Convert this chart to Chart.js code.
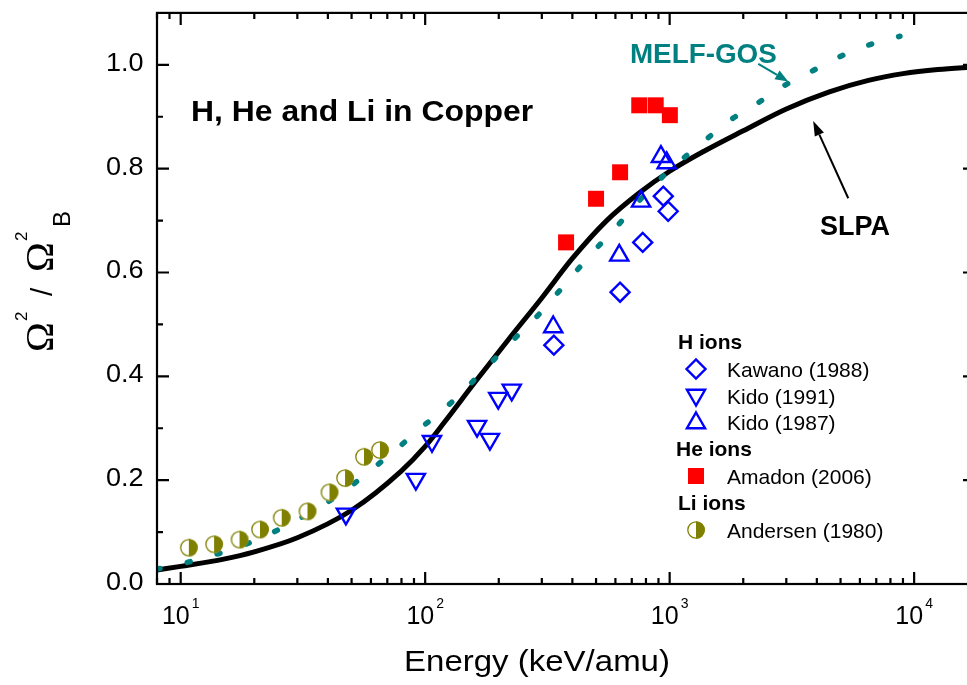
<!DOCTYPE html>
<html>
<head>
<meta charset="utf-8">
<script src="https://cdn.jsdelivr.net/npm/chart.js@4/dist/chart.umd.min.js"></script>
<style>
  html, body { margin: 0; padding: 0; background: #fff; overflow: hidden; }
  #wrap { position: relative; width: 990px; height: 685px; }
</style>
</head>
<body>
<div id="wrap"><canvas id="c" width="990" height="685"></canvas></div>
<script>
// ---- Stopping-power ratio Ω²/Ω²_B versus projectile energy (keV/amu) ----

// SLPA theory curve
const slpaEnergy = [8, 10, 15, 20, 30, 50, 80, 100, 120, 160, 220, 300, 400, 550, 750, 1000, 1400, 2000, 3000, 4500, 6500, 9000, 12500, 17740];
const slpaRatio  = [0.027, 0.034, 0.048, 0.062, 0.089, 0.142, 0.218, 0.265, 0.312, 0.389, 0.472, 0.551, 0.627, 0.699, 0.753, 0.795, 0.835, 0.873, 0.915, 0.948, 0.970, 0.983, 0.991, 0.996];

// MELF-GOS theory curve
const melfEnergy = [8, 9.3, 12.2, 15.9, 21.1, 27.2, 36, 46.9, 61, 77.3, 98, 110, 136, 164, 236, 281, 340, 430, 545, 617, 780, 1020, 1330, 1740, 2270, 2970, 3860, 5040, 6600, 8750];
const melfRatio  = [0.029, 0.034, 0.05, 0.065, 0.088, 0.113, 0.145, 0.18, 0.222, 0.262, 0.304, 0.323, 0.361, 0.40, 0.476, 0.511, 0.555, 0.611, 0.665, 0.692, 0.747, 0.801, 0.846, 0.891, 0.925, 0.961, 0.989, 1.017, 1.039, 1.055];

// H ions
const kawanoEnergy   = [336, 627, 776, 942, 986];
const kawanoRatio    = [0.46, 0.562, 0.658, 0.747, 0.718];
const kido1991Energy = [47.4, 91.6, 106.6, 163, 184, 199, 226];
const kido1991Ratio  = [0.135, 0.202, 0.275, 0.304, 0.279, 0.358, 0.374];
const kido1987Energy = [334, 622, 764, 921, 972];
const kido1987Ratio  = [0.495, 0.633, 0.737, 0.823, 0.811];
// He ions
const amadonEnergy   = [377, 500, 627, 751, 877, 1002];
const amadonRatio    = [0.658, 0.742, 0.793, 0.922, 0.922, 0.903];
// Li ions
const andersenEnergy = [10.8, 13.7, 17.4, 21.1, 25.9, 33, 40.6, 47, 56.2, 65.3];
const andersenRatio  = [0.070, 0.0765, 0.0855, 0.105, 0.1275, 0.140, 0.1765, 0.204, 0.245, 0.258];

// Axis ticks
const xMajorTicks = [10, 100, 1000, 10000];
const xMajorExponents = ['1', '2', '3', '4'];
const yMajorTicks = [0, 0.2, 0.4, 0.6, 0.8, 1.0];
const yTickLabels = ['0.0', '0.2', '0.4', '0.6', '0.8', '1.0'];
const yMinorTicks = [0.1, 0.3, 0.5, 0.7, 0.9];

const BLUE = '#0000ff', RED = '#ff0000', OLIVE = '#808000', TEAL = '#008080';

// half-filled circle marker (left half open, right half olive)
function makeHalfCircle(r) {
  const s = Math.ceil(2 * r + 4);
  const cv = document.createElement('canvas');
  cv.width = s; cv.height = s;
  const g = cv.getContext('2d');
  const c = s / 2;
  g.beginPath(); g.arc(c, c, r, 0, Math.PI * 2); g.fillStyle = '#fff'; g.fill();
  g.beginPath(); g.moveTo(c, c - r); g.arc(c, c, r, -Math.PI / 2, Math.PI / 2); g.closePath();
  g.fillStyle = OLIVE; g.fill();
  g.beginPath(); g.arc(c, c, r - 0.6, 0, Math.PI * 2); g.lineWidth = 1.3; g.strokeStyle = OLIVE; g.stroke();
  return cv;
}
const halfCircle = makeHalfCircle(8.8);

function pts(E, V) { return E.map((e, i) => ({ x: e, y: V[i] })); }

const markerStyles = {
  kawano:   { pointStyle: 'rectRot',  pointRadius: 9.5, pointRotation: 0,   pointBackgroundColor: 'rgba(0,0,0,0)', pointBorderColor: BLUE, pointBorderWidth: 2.4 },
  kido1991: { pointStyle: 'triangle', pointRadius: 10.5, pointRotation: 180, pointBackgroundColor: 'rgba(0,0,0,0)', pointBorderColor: BLUE, pointBorderWidth: 2.4 },
  kido1987: { pointStyle: 'triangle', pointRadius: 10.5, pointRotation: 0,   pointBackgroundColor: 'rgba(0,0,0,0)', pointBorderColor: BLUE, pointBorderWidth: 2.4 },
  amadon:   { pointStyle: 'rect',     pointRadius: 11.3, pointRotation: 0,   pointBackgroundColor: RED, pointBorderColor: RED, pointBorderWidth: 0 },
  andersen: { pointStyle: halfCircle, pointRadius: 9,    pointRotation: 0,   pointBackgroundColor: OLIVE, pointBorderColor: OLIVE, pointBorderWidth: 0 }
};

// text drawn with optional horizontal stretch
function drawText(ctx, s, x, y, font, align, sx, color) {
  sx = sx || 1;
  ctx.save();
  ctx.font = font;
  ctx.fillStyle = color || '#000';
  ctx.textBaseline = 'alphabetic';
  ctx.textAlign = 'left';
  const w = ctx.measureText(s).width * sx;
  const x0 = align === 'center' ? x - w / 2 : (align === 'right' ? x - w : x);
  ctx.translate(x0, y);
  ctx.scale(sx, 1);
  ctx.fillText(s, 0, 0);
  ctx.restore();
  return w;
}

function arrow(ctx, x1, y1, x2, y2, color, lw, headLen, headHalf) {
  const a = Math.atan2(y2 - y1, x2 - x1);
  const bx = x2 - Math.cos(a) * headLen, by = y2 - Math.sin(a) * headLen;
  ctx.save();
  ctx.strokeStyle = color; ctx.fillStyle = color; ctx.lineWidth = lw;
  ctx.beginPath(); ctx.moveTo(x1, y1); ctx.lineTo(bx, by); ctx.stroke();
  ctx.beginPath();
  ctx.moveTo(x2, y2);
  ctx.lineTo(bx + Math.sin(a) * headHalf, by - Math.cos(a) * headHalf);
  ctx.lineTo(bx - Math.sin(a) * headHalf, by + Math.cos(a) * headHalf);
  ctx.closePath(); ctx.fill();
  ctx.restore();
}

function legendMarker(ctx, st, x, y) {
  ctx.save();
  ctx.fillStyle = st.pointBackgroundColor;
  ctx.strokeStyle = st.pointBorderColor;
  ctx.lineWidth = st.pointBorderWidth;
  const opts = { pointStyle: st.pointStyle, radius: st.pointRadius, rotation: st.pointRotation, borderWidth: st.pointBorderWidth };
  if (Chart.helpers && Chart.helpers.drawPoint) {
    Chart.helpers.drawPoint(ctx, opts, x, y);
  } else if (st.pointStyle instanceof HTMLCanvasElement) {
    ctx.drawImage(st.pointStyle, x - st.pointStyle.width / 2, y - st.pointStyle.height / 2);
  }
  ctx.restore();
}

const framePlugin = {
  id: 'frame',
  afterDraw(chart) {
    const ctx = chart.ctx;
    const a = chart.chartArea;
    const xs = chart.scales.x, ys = chart.scales.y;
    ctx.save();
    ctx.strokeStyle = '#000';
    ctx.lineWidth = 2.2;
    ctx.lineCap = 'butt';
    ctx.strokeRect(a.left, a.top, a.right - a.left, a.bottom - a.top);

    // x ticks (bottom & top, inward)
    const MAJ = 12, MIN = 6;
    ctx.beginPath();
    for (let d = 1; d <= 4; d++) {
      for (let k = 1; k <= 9; k++) {
        const v = k * Math.pow(10, d);
        if (v < xs.min || v > xs.max) continue;
        const px = xs.getPixelForValue(v);
        const len = k === 1 ? MAJ : MIN;
        ctx.moveTo(px, a.bottom); ctx.lineTo(px, a.bottom - len);
        ctx.moveTo(px, a.top); ctx.lineTo(px, a.top + len);
      }
    }
    for (let k = 8; k <= 9; k++) {
      const px = xs.getPixelForValue(k);
      ctx.moveTo(px, a.bottom); ctx.lineTo(px, a.bottom - MIN);
      ctx.moveTo(px, a.top); ctx.lineTo(px, a.top + MIN);
    }
    // y ticks (left & right, inward)
    yMajorTicks.forEach(v => {
      const py = ys.getPixelForValue(v);
      ctx.moveTo(a.left, py); ctx.lineTo(a.left + MAJ, py);
      ctx.moveTo(a.right, py); ctx.lineTo(a.right - MAJ, py);
    });
    yMinorTicks.forEach(v => {
      const py = ys.getPixelForValue(v);
      ctx.moveTo(a.left, py); ctx.lineTo(a.left + MIN, py);
      ctx.moveTo(a.right, py); ctx.lineTo(a.right - MIN, py);
    });
    ctx.stroke();
    ctx.restore();

    const SANS = '"Liberation Sans", Arial, sans-serif';

    // y tick labels
    yMajorTicks.forEach((v, i) => {
      const py = ys.getPixelForValue(v);
      drawText(ctx, yTickLabels[i], a.left - 13.5, py + 6, '26px ' + SANS, 'right', 1.04);
    });

    // x tick labels: 10 with exponent
    xMajorTicks.forEach((v, i) => {
      const px = xs.getPixelForValue(v);
      ctx.save();
      ctx.font = '25px ' + SANS;
      const w1 = ctx.measureText('10').width;
      ctx.font = '14px ' + SANS;
      const w2 = ctx.measureText(xMajorExponents[i]).width;
      ctx.restore();
      const total = w1 + 2 + w2;
      const x0 = px - total / 2;
      drawText(ctx, '10', x0, 624, '25px ' + SANS, 'left');
      drawText(ctx, xMajorExponents[i], x0 + w1 + 2, 608, '14px ' + SANS, 'left');
    });

    // x axis title
    drawText(ctx, 'Energy (keV/amu)', 537, 671, '30px ' + SANS, 'center', 1.1);

    // y axis title  Ω² / Ω²_B  (rotated)
    ctx.save();
    ctx.translate(53, 352);
    ctx.rotate(-Math.PI / 2);
    ctx.fillStyle = '#000';
    ctx.textBaseline = 'alphabetic';
    ctx.textAlign = 'left';
    const SERIF = '"Liberation Serif", "DejaVu Serif", serif';
    ctx.font = '40px ' + SERIF;
    ctx.fillText('Ω', 0, 0);
    ctx.font = '17px ' + SANS;
    ctx.fillText('2', 31, -26);
    ctx.font = '30px ' + SANS;
    ctx.fillText('/', 56, -1);
    ctx.font = '40px ' + SERIF;
    ctx.fillText('Ω', 80, 0);
    ctx.font = '17px ' + SANS;
    ctx.fillText('2', 111, -26);
    ctx.font = '24px ' + SANS;
    ctx.fillText('B', 125, 17);
    ctx.restore();

    // plot title
    drawText(ctx, 'H, He and Li in Copper', xs.getPixelForValue(11.02), ys.getPixelForValue(0.892),
             'bold 29px ' + SANS, 'left', 1.1);

    // curve labels with arrows
    drawText(ctx, 'MELF-GOS', xs.getPixelForValue(688), ys.getPixelForValue(1.004), 'bold 27px ' + SANS, 'left', 1.03, TEAL);
    arrow(ctx, xs.getPixelForValue(2304), ys.getPixelForValue(1.002),
               xs.getPixelForValue(3055), ys.getPixelForValue(0.968), TEAL, 2, 13, 5);
    drawText(ctx, 'SLPA', xs.getPixelForValue(4119), ys.getPixelForValue(0.673), 'bold 27px ' + SANS, 'left', 1.0, '#000');
    arrow(ctx, xs.getPixelForValue(5377), ys.getPixelForValue(0.743),
               xs.getPixelForValue(3864), ys.getPixelForValue(0.892), '#000', 2, 15, 5);

    // grouped legend
    const LX = 678, MX = 696, TX = 727;
    const BOLD = 'bold 21px ' + SANS, REG = '21px ' + SANS;
    drawText(ctx, 'H ions', LX, 349, BOLD, 'left');
    legendMarker(ctx, markerStyles.kawano, MX, 369);
    drawText(ctx, 'Kawano (1988)', TX, 376.5, REG, 'left');
    legendMarker(ctx, markerStyles.kido1991, MX, 395);
    drawText(ctx, 'Kido (1991)', TX, 403.5, REG, 'left');
    legendMarker(ctx, markerStyles.kido1987, MX, 423);
    drawText(ctx, 'Kido (1987)', TX, 429.5, REG, 'left');
    drawText(ctx, 'He ions', LX - 2, 456, BOLD, 'left');
    legendMarker(ctx, markerStyles.amadon, MX, 476);
    drawText(ctx, 'Amadon (2006)', TX, 483.5, REG, 'left');
    drawText(ctx, 'Li ions', LX, 510, BOLD, 'left');
    legendMarker(ctx, markerStyles.andersen, MX, 530);
    drawText(ctx, 'Andersen (1980)', TX, 537.5, REG, 'left');
  }
};

const chart = new Chart(document.getElementById('c'), {
  type: 'scatter',
  data: {
    datasets: [
      Object.assign({ label: 'Andersen (1980)', data: pts(andersenEnergy, andersenRatio), order: 1 }, markerStyles.andersen),
      Object.assign({ label: 'Amadon (2006)', data: pts(amadonEnergy, amadonRatio), order: 2 }, markerStyles.amadon),
      Object.assign({ label: 'Kido (1987)', data: pts(kido1987Energy, kido1987Ratio), order: 3 }, markerStyles.kido1987),
      Object.assign({ label: 'Kido (1991)', data: pts(kido1991Energy, kido1991Ratio), order: 4 }, markerStyles.kido1991),
      Object.assign({ label: 'Kawano (1988)', data: pts(kawanoEnergy, kawanoRatio), order: 5 }, markerStyles.kawano),
      {
        label: 'MELF-GOS', data: pts(melfEnergy, melfRatio), order: 8,
        showLine: true, pointRadius: 0, borderColor: TEAL, borderWidth: 5.5,
        borderDash: [3, 28], borderCapStyle: 'round', cubicInterpolationMode: 'monotone'
      },
      {
        label: 'SLPA', data: pts(slpaEnergy, slpaRatio), order: 9,
        showLine: true, pointRadius: 0, borderColor: '#000', borderWidth: 5,
        cubicInterpolationMode: 'monotone'
      }
    ]
  },
  options: {
    responsive: false,
    devicePixelRatio: 1,
    animation: false,
    events: [],
    layout: { padding: { left: 157, top: 8, right: 15, bottom: 101 } },
    plugins: { legend: { display: false }, tooltip: { enabled: false } },
    scales: {
      x: { type: 'logarithmic', min: 8, max: 17740, display: false },
      y: { type: 'linear', min: 0, max: 1.1, display: false }
    }
  },
  plugins: [framePlugin]
});
</script>
</body>
</html>
